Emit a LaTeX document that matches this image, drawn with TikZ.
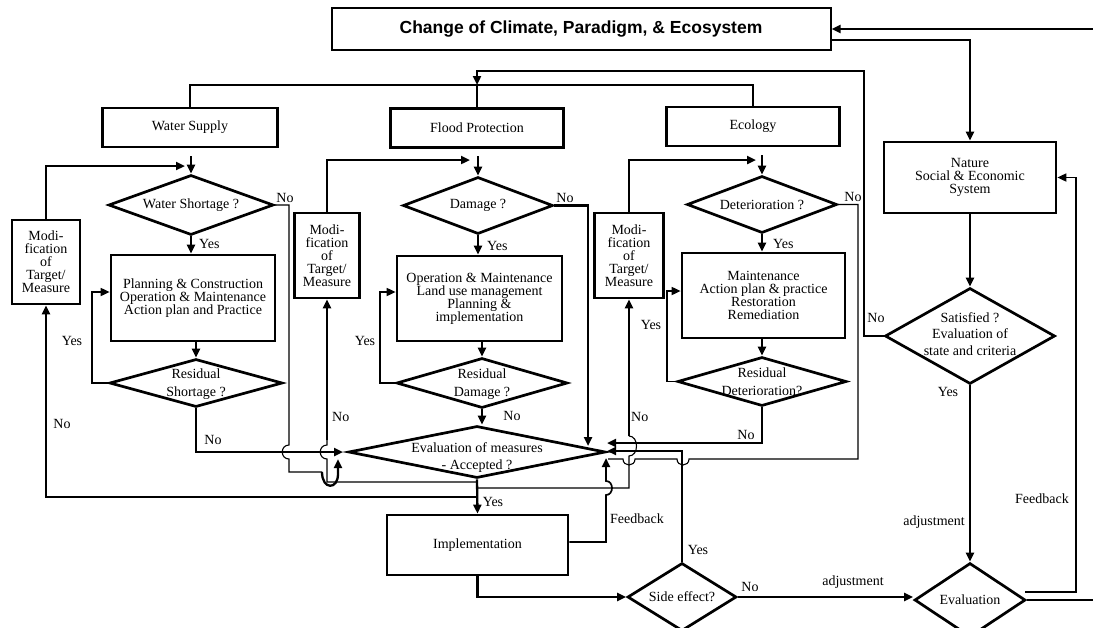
\documentclass[tikz,border=0pt]{standalone}
\usepackage{fontspec}
\setmainfont{Liberation Serif}
\newfontfamily\titlefont{Liberation Sans}
\usetikzlibrary{arrows.meta,shapes.geometric,calc}
\begin{document}
\begin{tikzpicture}[x=1pt,y=-1pt,
  font=\fontsize{14}{13}\selectfont,
  box/.style={draw, line width=2.7pt, rectangle, inner sep=0pt, align=center},
  dia/.style={draw, line width=2.7pt, diamond, inner sep=0pt},
  txt/.style={align=center, inner sep=0pt},
  lbl/.style={inner sep=0pt},
  thk/.style={line width=2.3pt},
  med/.style={line width=1.7pt},
  thn/.style={line width=1.1pt},
  arr/.style={-{Triangle[length=9pt,width=8pt]}},
]
\useasboundingbox (0,0) rectangle (1093,627);
\clip (0,0) rectangle (1093,627);

% ---------- nodes ----------
\node[box, line width=2pt, minimum width=499, minimum height=42,
      font=\titlefont\bfseries\fontsize{17.5}{17.5}\selectfont] (title) at (581,29)
      {Change of Climate, Paradigm, \& Ecosystem};

\node[box, minimum width=175, minimum height=39] (ws) at (190,127.5) {Water Supply};
\node[box, minimum width=173, minimum height=39] (fp) at (477,128) {Flood Protection};
\node[box, minimum width=173, minimum height=39] (eco) at (753,126.5) {Ecology};

\node[dia, minimum width=165, minimum height=60] (d1) at (191,205) {};
\node[txt] (d1t) at (d1) {Water Shortage ?};
\node[dia, minimum width=150, minimum height=57] (d2) at (478,205.5) {};
\node[txt] (d2t) at (d2) {Damage ?};
\node[dia, minimum width=150, minimum height=57] (d3) at (762,204.5) {};
\node[txt] (d3t) at (d3) {Deterioration ?};

\node[box, minimum width=164, minimum height=86] (p1) at (193,298)
  {Planning \& Construction\\Operation \& Maintenance\\Action plan and Practice};
\node[box, minimum width=165, minimum height=85] (p2) at (479.5,298.5)
  {Operation \& Maintenance\\Land use management\\Planning \&\\implementation};
\node[box, minimum width=163, minimum height=85] (p3) at (763.5,295.5)
  {Maintenance\\Action plan \& practice\\Restoration\\Remediation};

\node[dia, minimum width=173, minimum height=48] (r1) at (196,383) {};
\node[txt, font=\fontsize{14}{18}\selectfont] (r1t) at (196,384) {Residual\\Shortage ?};
\node[dia, minimum width=171, minimum height=50] (r2) at (482,383) {};
\node[txt, font=\fontsize{14}{18}\selectfont] (r2t) at (482,384) {Residual\\Damage ?};
\node[dia, minimum width=169, minimum height=49] (r3) at (762,381.5) {};
\node[txt, font=\fontsize{14}{18}\selectfont] (r3t) at (762,382) {Residual\\Deterioration?};

\node[box, minimum width=68, minimum height=84] (m1) at (46,262) {Modi-\\fication\\of\\Target/\\Measure};
\node[box, minimum width=65, minimum height=85] (m2) at (327,255.5) {Modi-\\fication\\of\\Target/\\Measure};
\node[box, minimum width=69, minimum height=85] (m3) at (629,255.5) {Modi-\\fication\\of\\Target/\\Measure};

\node[dia, minimum width=257, minimum height=52] (em) at (477,452) {};
\node[txt, font=\fontsize{14}{17}\selectfont] (emt) at (477,458) {Evaluation of measures\\- Accepted ?};

\node[box, minimum width=181, minimum height=60] (impl) at (477.5,545) {Implementation};

\node[dia, minimum width=109, minimum height=68] (se) at (682,597) {};
\node[txt] (set) at (se) {Side effect?};

\node[box, minimum width=172, minimum height=71] (nat) at (970,177.5) {Nature\\Social \& Economic\\System};

\node[dia, minimum width=170, minimum height=96] (sat) at (970,336) {};
\node[txt, font=\fontsize{14}{16.5}\selectfont] (satt) at (970,334) {Satisfied ?\\Evaluation of\\state and criteria};

\node[dia, minimum width=111, minimum height=74] (ev) at (970,600) {};
\node[txt] (evt) at (ev) {Evaluation};

% ---------- coordinates ----------
\coordinate (edgeTop) at (1093,29);
\coordinate (edgeBot) at (1093,600);
\coordinate (bar) at (0,85);
\coordinate (in1) at (191,156);
\coordinate (in2) at (478,156);
\coordinate (in3) at (762,155);

% ---------- top part ----------
\draw[thk,arr] (edgeTop) -- (title.east);
\draw[thk,arr] (title.east |- 0,40) -| (nat.north);
\draw[thn] (ws.north) -- (ws.north |- bar) -- (eco.north |- bar) -- (eco.north);
\draw[thn] (fp.north) -- (fp.north |- bar);
\draw[thk,arr] (sat.west) -| (864,71) -| (fp.north |- bar);
\node[lbl] at (876,318) {No};

% ---------- right column ----------
\draw[thk,arr] (nat.south) -- (sat.north);
\draw[thk,arr] (sat.south) -- (ev.north);
\node[lbl] at (948,392) {Yes};
\node[lbl, anchor=east] at (965,522) {adjustment};
\draw[thk] (ev.east) -- (ev.east -| edgeBot);
\draw[med,arr] (1025,592) -- (1076,592) |- (nat.east);
\node[lbl] at (1042,499) {Feedback};

% ---------- inputs to top diamonds ----------
\draw[thk,arr] (in1) -- (d1.north);
\draw[thk,arr] (in2) -- (d2.north);
\draw[thk,arr] (in3) -- (d3.north);
\draw[thk,arr] (m1.north) |- (185,166);
\draw[thk,arr] (m2.north) |- (470,160);
\draw[thk,arr] (m3.north) |- (756,160);

% ---------- Yes arrows ----------
\draw[thk,arr] (d1.south) -- (d1.south |- p1.north);
\draw[thk,arr] (d2.south) -- (d2.south |- p2.north);
\draw[thk,arr] (d3.south) -- (d3.south |- p3.north);
\node[lbl, anchor=west] at (199,244) {Yes};
\node[lbl, anchor=west] at (487,246) {Yes};
\node[lbl, anchor=west] at (773,244) {Yes};

\draw[thk,arr] (r1.north |- p1.south) -- (r1.north);
\draw[thk,arr] (r2.north |- p2.south) -- (r2.north);
\draw[thk,arr] (r3.north |- p3.south) -- (r3.north);

% residual Yes loops
\draw[med,arr] (r1.west) -| (92,292) -- (p1.west |- 0,292);
\draw[med,arr] (r2.west) -| (380,292) -- (p2.west |- 0,292);
\draw[med,arr] (r3.west) -| (667,291) -- (p3.west |- 0,291);
\node[lbl] at (72,341) {Yes};
\node[lbl] at (365,341) {Yes};
\node[lbl] at (651,325) {Yes};

% ---------- No from top diamonds ----------
\draw[thn] (d1.east) -- (289,205) -- (289,445) .. controls (280,445) and (280,459) .. (289,459) -- (289,472) -- (322,472);
\draw[thk,arr] (322,472) .. controls (322,490) and (338,490) .. (338,474) -- (338,459);
\node[lbl] at (285,198) {No};

\draw[thk,arr] (d2.east) -- (588,205.5) -- (588,446);
\node[lbl] at (565,198) {No};

\draw[thn] (d3.east) -- (858,204.5) -- (858,459) -- (689,459)
  .. controls (689,467) and (677,467) .. (677,459) -- (635,459)
  .. controls (635,467) and (623,467) .. (623,459) -- (608,459);
\node[lbl] at (853,197) {No};

% ---------- residual No ----------
\draw[thk,arr] (r1.south) |- (343,452);
\node[lbl] at (213,440) {No};
\draw[thk,arr] (r2.south) -- (r2.south |- em.north);
\node[lbl] at (512,416) {No};
\draw[thk,arr] (r3.south) |- (607,443);
\node[lbl] at (746,435) {No};

% ---------- evaluation of measures ----------
\draw[thk,arr] (em.south) -- (impl.north);
\node[lbl] at (493,502) {Yes};
\draw[thk,arr] (em.south |- 0,497) -| (m1.south);
\node[lbl] at (62,424) {No};

\draw[thn] (em.south |- 0,482) -- (327,482) -- (327,459) .. controls (318,459) and (318,445) .. (327,445) -- (327,440);
\draw[thk,arr] (327,440) -- (m2.south);
\node[lbl, anchor=west] at (332,417) {No};

\draw[thn] (em.south |- 0,488) -- (629,488) -- (629,456) .. controls (639,456) and (639,436) .. (629,436);
\draw[thk,arr] (629,436) -- (m3.south);
\node[lbl, anchor=west] at (631,417) {No};

% ---------- implementation / side effect ----------
\draw[med] ($(impl.east)+(0,-3)$) -- (606,542) -- (606,495) .. controls (614,495) and (614,481) .. (606,481) -- (606,470);
\draw[thk,arr] (606,470) -- (606,458);
\node[lbl, anchor=west] at (610,519) {Feedback};

\draw[thk,arr] (impl.south) |- (se.west);
\draw[thk,arr] (se.north) |- (607,451);
\node[lbl] at (698,550) {Yes};
\draw[thk,arr] (se.east) -- (se.east -| ev.west);
\node[lbl] at (750,587) {No};
\node[lbl] at (853,582) {adjustment};
\end{tikzpicture}
\end{document}
